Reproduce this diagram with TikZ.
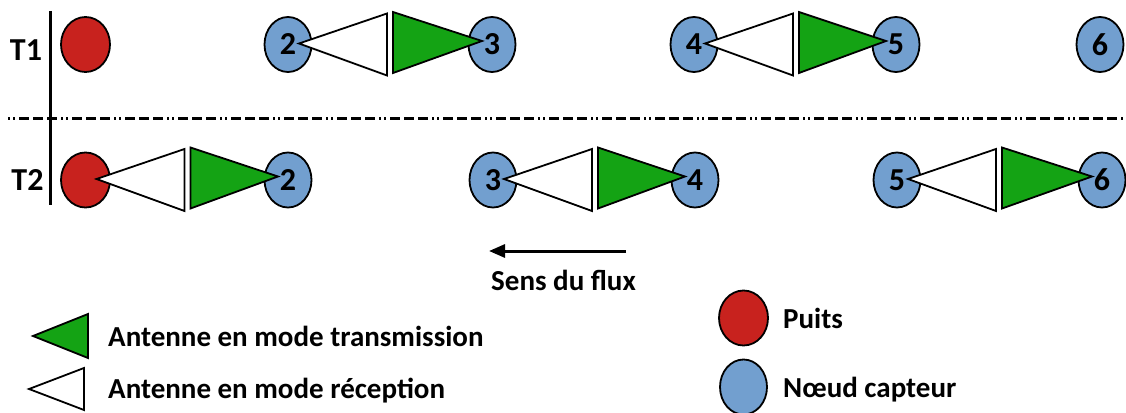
\documentclass[tikz,border=0pt]{standalone}
\usepackage{fontspec}
\setmainfont{Carlito}
\usetikzlibrary{shapes.geometric,arrows.meta}
\definecolor{sinkred}{RGB}{200,34,30}
\definecolor{sensorblue}{RGB}{114,159,207}
\definecolor{txgreen}{RGB}{20,163,20}
\tikzset{
  sinknode/.style={ellipse, draw, line width=1.8pt, fill=sinkred, minimum width=49pt, minimum height=55pt, inner sep=0pt},
  sensornode/.style={ellipse, draw, line width=1.8pt, fill=sensorblue, minimum width=47pt, minimum height=55pt, inner sep=0pt},
  rxant/.style={draw, line width=1.8pt, fill=white},
  txant/.style={draw, line width=1.8pt, fill=txgreen},
  num/.style={font=\fontsize{32}{32}\selectfont\bfseries, inner sep=0pt},
  tlab/.style={font=\fontsize{32}{32}\selectfont\bfseries, inner sep=0pt},
  legtext/.style={font=\fontsize{29}{30}\selectfont\bfseries, inner sep=0pt, anchor=base west},
  thickline/.style={line width=3pt},
}
\begin{document}
\begin{tikzpicture}[x=1pt,y=-1pt]
\useasboundingbox (0,0) rectangle (1126,412);
% time axis and separator
\coordinate (vtop) at (50,11);
\coordinate (vbot) at (50,205);
\draw[thickline] (vtop) -- (vbot);
\coordinate (sepL) at (8,118);
\coordinate (sepR) at (1126,118);
\draw[thickline, dash pattern=on 2pt off 3pt on 2pt off 4pt on 10pt off 4pt on 10pt off 4pt on 10pt off 4pt] (sepL) -- (sepR);
\node[tlab] (t1) at (26,50) {T1};
\node[tlab] (t2) at (27.5,180) {T2};
% row T1 nodes
\node[sinknode] (a1) at (85.5,44.5) {};
\node[sensornode] (a2) at (288,44.5) {};
\node[sensornode] (a3) at (492,44.5) {};
\node[sensornode] (a4) at (694,44.5) {};
\node[sensornode] (a5) at (896,44.5) {};
\node[sensornode] (a6) at (1100,44.5) {};
% row T2 nodes
\node[sinknode] (b1) at (85.5,180) {};
\node[sensornode] (b2) at (288,180) {};
\node[sensornode] (b3) at (493,180) {};
\node[sensornode] (b4) at (695,180) {};
\node[sensornode] (b5) at (897,180) {};
\node[sensornode] (b6) at (1102,180) {};
% antennas: receiver on left node, transmitter toward right node
\foreach \l/\r in {a2/a3, a4/a5, b1/b2, b3/b4, b5/b6}{
  \draw[rxant] ([xshift=11pt,yshift=1pt]\l.center) -- ([xshift=99pt,yshift=31pt]\l.center) -- ([xshift=99pt,yshift=-31pt]\l.center) -- cycle;
  \draw[txant] ([xshift=105pt,yshift=32.5pt]\l.center) -- ([xshift=-10pt,yshift=3.5pt]\r.center) -- ([xshift=105pt,yshift=-28.5pt]\l.center) -- cycle;
}
% numbers
\node[num] (na2) at (a2) {2};
\node[num] (na3) at (a3) {3};
\node[num] (na4) at (a4) {4};
\node[num] (na5) at (a5) {5};
\node[num] (na6) at (a6) {6};
\node[num] (nb2) at (b2) {2};
\node[num] (nb3) at (b3) {3};
\node[num] (nb4) at (b4) {4};
\node[num] (nb5) at (b5) {5};
\node[num] (nb6) at (b6) {6};
% flow direction
\coordinate (fstart) at (626,251);
\coordinate (fend) at (489,251);
\draw[thickline, -{Triangle[length=16pt,width=13pt]}] (fstart) -- (fend);
\node[legtext] (flux) at (491,290) {Sens du flux};
% legend antennas
\draw[txant] (33,336) -- (88,314) -- (88,358) -- cycle;
\node[legtext] (ltx) at (108,346) {Antenne en mode transmission};
\draw[rxant] (29,389) -- (84,368) -- (84,410) -- cycle;
\node[legtext] (lrx) at (108,398) {Antenne en mode réception};
% legend nodes
\node[sinknode] (lsink) at (743.5,318) {};
\node[legtext] (lpuits) at (783,328) {Puits};
\node[sensornode] (lsensor) at (743.5,387) {};
\node[legtext] (lcapt) at (783,397) {Nœud capteur};
\end{tikzpicture}
\end{document}
